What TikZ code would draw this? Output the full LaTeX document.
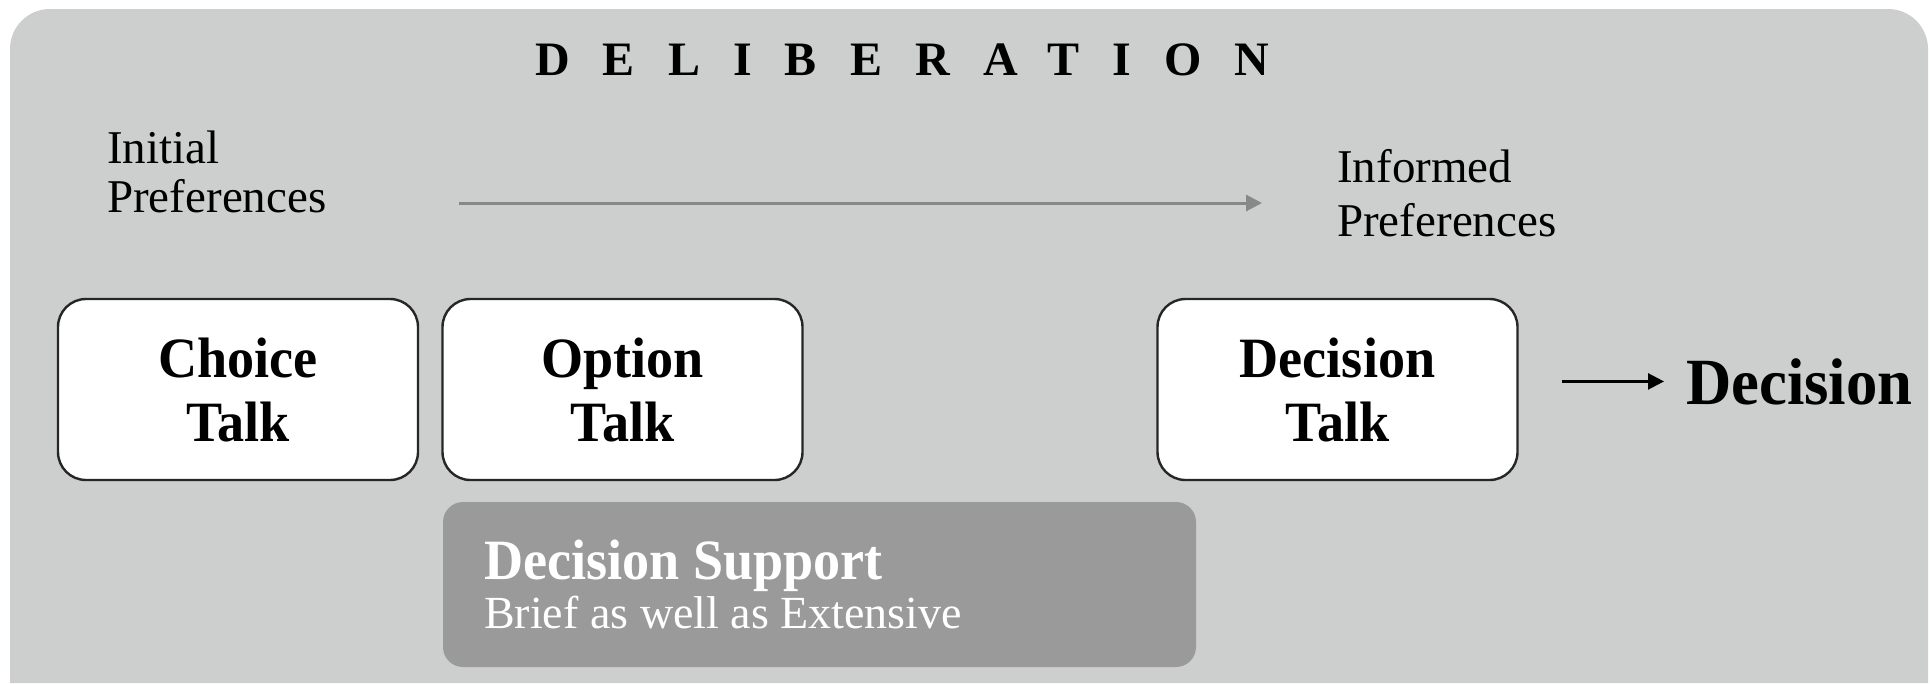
\documentclass[tikz,border=0pt]{standalone}
\usepackage{fontspec}
\setmainfont{Liberation Serif}
\newfontfamily\condf[FakeStretch=0.95]{Liberation Serif}
\newfontfamily\titlef[LetterSpace=69]{Liberation Serif}
\usetikzlibrary{arrows.meta}
\definecolor{bgc}{HTML}{CDCFCE}
\definecolor{dsc}{HTML}{9A9A9A}
\definecolor{arc}{HTML}{888888}
\tikzset{
  talk/.style={draw=black!85, line width=2.4pt, fill=white, rounded corners=28pt,
    minimum width=360pt, minimum height=181pt, align=center, inner sep=0pt,
    font=\condf\bfseries\fontsize{57}{64}\selectfont},
  small/.style={align=left, inner sep=0pt, font=\fontsize{47}{49}\selectfont},
  big/.style={inner sep=0pt, font=\condf\bfseries\fontsize{66}{66}\selectfont}
}
\begin{document}
\begin{tikzpicture}[x=1pt,y=-1pt]
\useasboundingbox (0,0) rectangle (1930,683);
\fill[white] (0,0) rectangle (1930,683);
\fill[bgc] (10,683) [rounded corners=40pt] -- (10,9) -- (1928,9) [sharp corners] -- (1928,683) -- cycle;
% title
\node[anchor=base west, inner sep=0pt, font=\titlef\bfseries\fontsize{48}{48}\selectfont] (title) at (535,75) {DELIBERATION};
% preferences
\node[small, anchor=base west] (init) at (107,212) {Initial\\Preferences};
\node[small, anchor=base west, font=\fontsize{47}{54}\selectfont] (inf) at (1337,236) {Informed\\Preferences};
\coordinate (a1) at (459,203);
\coordinate (a2) at (1262,203);
\draw[arc, line width=3pt, -{Triangle[length=16pt,width=16pt]}] (a1) -- (a2);
% talk boxes
\node[talk] (choice) at (238,389.5) {Choice\\Talk};
\node[talk] (option) at (622.5,389.5) {Option\\Talk};
\node[talk] (dtalk) at (1337.5,389.5) {Decision\\Talk};
\node[big, anchor=base west] (decision) at (1686,404) {Decision};
\coordinate (b1) at ([xshift=43pt]dtalk.east |- decision.west);
\draw[black, line width=2.5pt, -{Triangle[length=16pt,width=16pt]}] (b1) -- ([xshift=-22pt]decision.west);
% decision support
\node[fill=dsc, rounded corners=20pt, minimum width=753pt, minimum height=165pt, inner sep=0pt] (ds) at (819.5,584.5) {};
\node[anchor=base west, inner sep=0pt, text=white, align=left, font=\condf\bfseries\fontsize{57}{57}\selectfont] (dst) at (484,579) {Decision Support};
\node[anchor=base west, inner sep=0pt, text=white, font=\fontsize{46}{46}\selectfont] (dsb) at (484,628) {Brief as well as Extensive};
\end{tikzpicture}
\end{document}
